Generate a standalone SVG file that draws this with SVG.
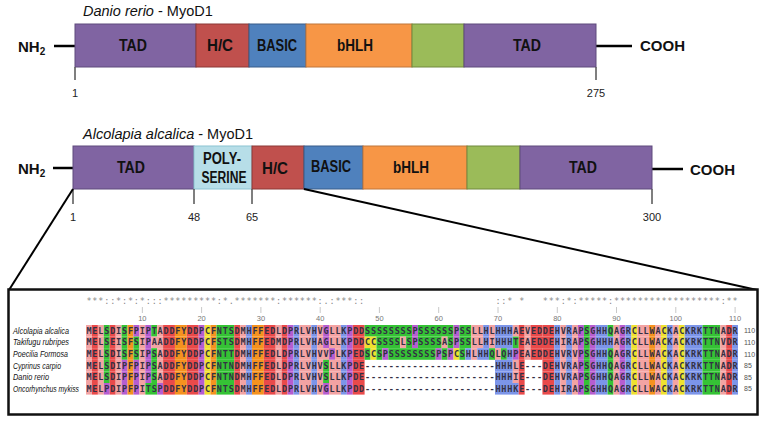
<svg xmlns="http://www.w3.org/2000/svg" width="764" height="424" viewBox="0 0 764 424">
<style>
.ttl{font-family:"Liberation Sans",Arial,sans-serif;font-size:14.5px;fill:#111}
.lbl{font-family:"Liberation Sans",Arial,sans-serif;font-weight:bold;font-size:16px;fill:#111;text-anchor:middle}
.term{font-family:"Liberation Sans",Arial,sans-serif;font-weight:bold;font-size:15px;fill:#111}
.num{font-family:"Liberation Sans",Arial,sans-serif;font-size:11px;fill:#222;text-anchor:middle}
.pur{fill:#8064a2;stroke:#5f4a7d;stroke-width:1}
.red{fill:#c0504d;stroke:#8c3836;stroke-width:1}
.blu{fill:#4f81bd;stroke:#385d8a;stroke-width:1}
.orn{fill:#f79646;stroke:#c0763a;stroke-width:1}
.grn{fill:#9bbb59;stroke:#71893f;stroke-width:1}
.lbl2{fill:#b7dee8;stroke:#8cc3d2;stroke-width:1}
.ln{stroke:#000;stroke-width:2.5;fill:none}
.tick{stroke:#555;stroke-width:1.5}
.al rect{height:11.6px}
.p{fill:#f3a3a3}.r{fill:#e94a4a}.g{fill:#35c235}.b{fill:#7c95e9}.o{fill:#f5921f}.m{fill:#b65dd0}.y{fill:#efe22e}
.seq{font-family:"DejaVu Sans Mono",monospace;font-size:8.5px;letter-spacing:0.81px;fill:#333044;font-weight:bold}
.cons{font-family:"DejaVu Sans Mono",monospace;font-size:8.5px;letter-spacing:0.81px;fill:#888}
.sp{font-family:"Liberation Sans",Arial,sans-serif;font-style:italic;font-size:8.5px;fill:#111}
.rul{font-family:"Liberation Sans",Arial,sans-serif;font-size:7.5px;fill:#777;text-anchor:middle}
.cnt{font-family:"Liberation Sans",Arial,sans-serif;font-size:7px;fill:#555}
</style>
<defs>
<g id="hd" class="al"><rect x="13" width="2" class="r"/><rect x="15" width="2" class="o"/><rect x="17" width="2" class="r"/><rect x="19" width="1" class="m"/><rect x="20" width="1" class="y"/><rect x="21" width="1" class="o"/><rect x="22" width="3" class="g"/><rect x="25" width="1" class="r"/><rect x="26" width="1" class="p"/><rect x="27" width="1" class="b"/><rect x="28" width="2" class="o"/><rect x="30" width="2" class="r"/><rect x="32" width="1" class="p"/><rect x="33" width="1" class="r"/><rect x="34" width="1" class="m"/><rect x="35" width="1" class="b"/><rect x="36" width="2" class="p"/><rect x="38" width="1" class="b"/></g>
<g id="mid" class="al"><rect x="77" width="2" class="r"/><rect x="79" width="1" class="b"/><rect x="80" width="1" class="p"/><rect x="81" width="1" class="b"/><rect x="82" width="1" class="p"/><rect x="83" width="1" class="m"/><rect x="84" width="1" class="g"/><rect x="85" width="1" class="m"/><rect x="86" width="2" class="b"/><rect x="88" width="1" class="g"/></g>
<g id="tail" class="al"><rect x="89" width="1" class="p"/><rect x="90" width="1" class="m"/><rect x="91" width="1" class="b"/><rect x="92" width="1" class="y"/><rect x="93" width="2" class="p"/><rect x="95" width="1" class="o"/><rect x="96" width="1" class="p"/><rect x="97" width="1" class="y"/><rect x="98" width="1" class="b"/><rect x="99" width="1" class="p"/><rect x="100" width="1" class="y"/><rect x="101" width="3" class="b"/><rect x="104" width="3" class="g"/><rect x="107" width="1" class="p"/><rect x="108" width="1" class="r"/><rect x="109" width="1" class="b"/></g>
<g id="rowCD" class="al"><rect x="0" width="1" class="p"/><rect x="1" width="1" class="r"/><rect x="2" width="1" class="p"/><rect x="3" width="1" class="g"/><rect x="4" width="1" class="r"/><rect x="5" width="1" class="p"/><rect x="6" width="1" class="m"/><rect x="7" width="1" class="o"/><rect x="8" width="1" class="m"/><rect x="9" width="1" class="p"/><rect x="10" width="1" class="m"/><rect x="11" width="1" class="g"/><rect x="12" width="1" class="p"/><use href="#hd"/><rect x="39" width="1" class="p"/><rect x="40" width="1" class="g"/><rect x="41" width="2" class="p"/><rect x="43" width="1" class="b"/><rect x="44" width="1" class="m"/><rect x="45" width="2" class="r"/><rect x="69" width="3" class="b"/><rect x="72" width="1" class="p"/><rect x="73" width="1" class="r"/><use href="#mid"/><use href="#tail"/></g>
</defs>

<g id="danio">
<text class="ttl" x="83" y="16"><tspan font-style="italic">Danio rerio</tspan> - MyoD1</text>
<line class="ln" x1="54" y1="46" x2="75" y2="46"/>
<line class="ln" x1="596" y1="46" x2="632" y2="46"/>
<text class="term" x="18" y="52">NH<tspan font-size="10" dy="3">2</tspan></text>
<text class="term" x="640" y="51" font-size="14">COOH</text>
<g id="danio-tad1"><rect class="pur" x="75" y="24" width="121" height="43"/><text class="lbl" x="133" y="51" textLength="28" lengthAdjust="spacingAndGlyphs">TAD</text></g>
<g id="danio-hc"><rect class="red" x="196" y="24" width="53" height="43"/><text class="lbl" x="220" y="51" textLength="26" lengthAdjust="spacingAndGlyphs">H/C</text></g>
<g id="danio-basic"><rect class="blu" x="249" y="24" width="57" height="43"/><text class="lbl" x="277" y="51" textLength="40" lengthAdjust="spacingAndGlyphs">BASIC</text></g>
<g id="danio-bhlh"><rect class="orn" x="306" y="24" width="106" height="43"/><text class="lbl" x="355" y="51" textLength="36" lengthAdjust="spacingAndGlyphs">bHLH</text></g>
<g id="danio-green"><rect class="grn" x="412" y="24" width="52" height="43"/></g>
<g id="danio-tad2"><rect class="pur" x="464" y="24" width="132" height="43"/><text class="lbl" x="527" y="51" textLength="28" lengthAdjust="spacingAndGlyphs">TAD</text></g>
<line class="tick" x1="75" y1="67" x2="75" y2="80"/>
<line class="tick" x1="596" y1="67" x2="596" y2="80"/>
<text class="num" x="75" y="97">1</text>
<text class="num" x="596" y="97">275</text>
</g>

<g id="alcolapia">
<text class="ttl" x="83" y="139"><tspan font-style="italic">Alcolapia alcalica</tspan> - MyoD1</text>
<line class="ln" x1="53" y1="168" x2="73" y2="168"/>
<line class="ln" x1="652" y1="169" x2="683" y2="169"/>
<text class="term" x="18" y="174">NH<tspan font-size="10" dy="3">2</tspan></text>
<text class="term" x="690" y="175" font-size="14">COOH</text>
<g id="alc-tad1"><rect class="pur" x="73" y="146" width="121" height="43"/><text class="lbl" x="131" y="173" textLength="28" lengthAdjust="spacingAndGlyphs">TAD</text></g>
<g id="alc-polyser"><rect class="lbl2" x="194" y="146" width="58" height="43"/><text class="lbl" x="222" y="164" font-size="14.5" textLength="38" lengthAdjust="spacingAndGlyphs">POLY-</text><text class="lbl" x="224" y="183" font-size="14.5" textLength="45" lengthAdjust="spacingAndGlyphs">SERINE</text></g>
<g id="alc-hc"><rect class="red" x="252" y="146" width="52" height="43"/><text class="lbl" x="275" y="174" textLength="26" lengthAdjust="spacingAndGlyphs">H/C</text></g>
<g id="alc-basic"><rect class="blu" x="304" y="146" width="59" height="43"/><text class="lbl" x="331" y="172" textLength="40" lengthAdjust="spacingAndGlyphs">BASIC</text></g>
<g id="alc-bhlh"><rect class="orn" x="363" y="146" width="104" height="43"/><text class="lbl" x="411" y="173" textLength="36" lengthAdjust="spacingAndGlyphs">bHLH</text></g>
<g id="alc-green"><rect class="grn" x="467" y="146" width="53" height="43"/></g>
<g id="alc-tad2"><rect class="pur" x="520" y="146" width="132" height="43"/><text class="lbl" x="583" y="173" textLength="28" lengthAdjust="spacingAndGlyphs">TAD</text></g>
<line class="tick" x1="73" y1="189" x2="73" y2="204"/>
<line class="tick" x1="194" y1="189" x2="194" y2="204"/>
<line class="tick" x1="252" y1="189" x2="252" y2="204"/>
<line class="tick" x1="652" y1="189" x2="652" y2="204"/>
<text class="num" x="73" y="221">1</text>
<text class="num" x="194" y="221">48</text>
<text class="num" x="252" y="221">65</text>
<text class="num" x="652" y="221">300</text>
</g>

<g id="connectors">
<line stroke="#000" stroke-width="2" x1="73" y1="189" x2="9" y2="290"/>
<line stroke="#000" stroke-width="2" x1="304" y1="189" x2="757" y2="290"/>
</g>

<g id="alignment">
<rect x="8.5" y="289.5" width="749" height="125" fill="#fff" stroke="#111" stroke-width="2.5"/>
<text class="cons" x="86.45" y="304" xml:space="preserve">***::*:*:*:::*********:*.*******:******:.:***::                      ::* *   ***:*:*****:******************:**</text>
<g stroke="#c8c8c8" stroke-width="1">
<line x1="142.35" y1="307" x2="142.35" y2="313"/><line x1="201.6" y1="307" x2="201.6" y2="313"/><line x1="260.9" y1="307" x2="260.9" y2="313"/><line x1="320.2" y1="307" x2="320.2" y2="313"/><line x1="379.4" y1="307" x2="379.4" y2="313"/><line x1="438.7" y1="307" x2="438.7" y2="313"/><line x1="498" y1="307" x2="498" y2="313"/><line x1="557.3" y1="307" x2="557.3" y2="313"/><line x1="616.5" y1="307" x2="616.5" y2="313"/><line x1="675.8" y1="307" x2="675.8" y2="313"/><line x1="735.1" y1="307" x2="735.1" y2="313"/>
</g>
<text class="rul" y="321"><tspan x="142.35">10</tspan><tspan x="201.6">20</tspan><tspan x="260.9">30</tspan><tspan x="320.2">40</tspan><tspan x="379.4">50</tspan><tspan x="438.7">60</tspan><tspan x="498">70</tspan><tspan x="557.3">80</tspan><tspan x="616.5">90</tspan><tspan x="675.8">100</tspan><tspan x="735.1">110</tspan></text>

<g class="al">
<g transform="translate(86.04,325) scale(5.927,1)"><rect x="0" width="1" class="p"/><rect x="1" width="1" class="r"/><rect x="2" width="1" class="p"/><rect x="3" width="1" class="g"/><rect x="4" width="1" class="r"/><rect x="5" width="1" class="p"/><rect x="6" width="1" class="g"/><rect x="7" width="1" class="o"/><rect x="8" width="1" class="m"/><rect x="9" width="1" class="p"/><rect x="10" width="1" class="m"/><rect x="11" width="1" class="g"/><rect x="12" width="1" class="p"/><use href="#hd"/><rect x="39" width="1" class="p"/><rect x="40" width="1" class="m"/><rect x="41" width="2" class="p"/><rect x="43" width="1" class="b"/><rect x="44" width="1" class="m"/><rect x="45" width="2" class="r"/><rect x="47" width="8" class="g"/><rect x="55" width="1" class="m"/><rect x="56" width="6" class="g"/><rect x="62" width="1" class="m"/><rect x="63" width="2" class="g"/><rect x="65" width="2" class="p"/><rect x="67" width="1" class="b"/><rect x="68" width="1" class="p"/><rect x="69" width="3" class="b"/><rect x="72" width="1" class="p"/><rect x="73" width="1" class="r"/><rect x="74" width="1" class="p"/><rect x="75" width="2" class="r"/><use href="#mid"/><use href="#tail"/></g>
<g transform="translate(86.04,336.6) scale(5.927,1)"><rect x="0" width="1" class="p"/><rect x="1" width="1" class="r"/><rect x="2" width="1" class="p"/><rect x="3" width="1" class="g"/><rect x="4" width="1" class="r"/><rect x="5" width="1" class="p"/><rect x="6" width="1" class="g"/><rect x="7" width="1" class="o"/><rect x="8" width="1" class="g"/><rect x="9" width="1" class="p"/><rect x="10" width="1" class="m"/><rect x="11" width="2" class="p"/><use href="#hd"/><rect x="39" width="1" class="p"/><rect x="40" width="1" class="m"/><rect x="41" width="2" class="p"/><rect x="43" width="1" class="b"/><rect x="44" width="1" class="m"/><rect x="45" width="2" class="r"/><rect x="47" width="2" class="y"/><rect x="49" width="4" class="g"/><rect x="53" width="1" class="p"/><rect x="54" width="1" class="g"/><rect x="55" width="1" class="m"/><rect x="56" width="4" class="g"/><rect x="60" width="1" class="p"/><rect x="61" width="1" class="g"/><rect x="62" width="1" class="m"/><rect x="63" width="2" class="g"/><rect x="65" width="2" class="p"/><rect x="67" width="1" class="b"/><rect x="68" width="1" class="p"/><rect x="69" width="3" class="b"/><rect x="72" width="1" class="g"/><rect x="73" width="1" class="r"/><rect x="74" width="1" class="p"/><rect x="75" width="4" class="r"/><rect x="79" width="1" class="b"/><rect x="80" width="1" class="p"/><rect x="81" width="1" class="b"/><rect x="82" width="1" class="p"/><rect x="83" width="1" class="m"/><rect x="84" width="1" class="g"/><rect x="85" width="1" class="m"/><rect x="86" width="3" class="b"/><use href="#tail"/></g>
<g transform="translate(86.04,348.2) scale(5.927,1)"><rect x="0" width="1" class="p"/><rect x="1" width="1" class="r"/><rect x="2" width="1" class="p"/><rect x="3" width="1" class="g"/><rect x="4" width="1" class="r"/><rect x="5" width="1" class="p"/><rect x="6" width="1" class="g"/><rect x="7" width="1" class="o"/><rect x="8" width="1" class="g"/><rect x="9" width="1" class="p"/><rect x="10" width="1" class="m"/><rect x="11" width="1" class="g"/><rect x="12" width="1" class="p"/><use href="#hd"/><rect x="39" width="2" class="p"/><rect x="41" width="1" class="m"/><rect x="42" width="1" class="p"/><rect x="43" width="1" class="b"/><rect x="44" width="1" class="m"/><rect x="45" width="2" class="r"/><rect x="47" width="1" class="g"/><rect x="48" width="1" class="y"/><rect x="49" width="1" class="g"/><rect x="50" width="1" class="m"/><rect x="51" width="8" class="g"/><rect x="59" width="1" class="m"/><rect x="60" width="1" class="g"/><rect x="61" width="1" class="m"/><rect x="62" width="1" class="y"/><rect x="63" width="1" class="g"/><rect x="64" width="1" class="b"/><rect x="65" width="1" class="p"/><rect x="66" width="2" class="b"/><rect x="68" width="1" class="g"/><rect x="69" width="1" class="p"/><rect x="70" width="1" class="g"/><rect x="71" width="1" class="b"/><rect x="72" width="1" class="m"/><rect x="73" width="1" class="r"/><rect x="74" width="1" class="p"/><rect x="75" width="2" class="r"/><use href="#mid"/><use href="#tail"/></g>
<use href="#rowCD" transform="translate(86.04,359.8) scale(5.927,1)"/>
<use href="#rowCD" transform="translate(86.04,371.4) scale(5.927,1)"/>
<g transform="translate(86.04,383) scale(5.927,1)"><rect x="0" width="1" class="p"/><rect x="1" width="1" class="r"/><rect x="2" width="1" class="p"/><rect x="3" width="1" class="m"/><rect x="4" width="1" class="r"/><rect x="5" width="1" class="p"/><rect x="6" width="1" class="m"/><rect x="7" width="1" class="o"/><rect x="8" width="1" class="m"/><rect x="9" width="1" class="p"/><rect x="10" width="2" class="g"/><rect x="12" width="1" class="m"/><use href="#hd"/><rect x="39" width="1" class="p"/><rect x="40" width="1" class="m"/><rect x="41" width="2" class="p"/><rect x="43" width="1" class="b"/><rect x="44" width="1" class="m"/><rect x="45" width="2" class="r"/><rect x="69" width="4" class="b"/><rect x="73" width="1" class="r"/><use href="#mid"/><use href="#tail"/></g>
</g>

<g class="seq">
<text x="86.45" y="333.8">MELSDISFPIPTADDFYDDPCFNTSDMHFFEDLDPRLVHVGLLKPDDSSSSSSSSPSSSSSSPSSLLHLHHHAEVEDDEHVRAPSGHHQAGRCLLWACKACKRKTTNADR</text>
<text x="86.45" y="345.4">MELSEISFSIPAADDFYDDPCFSTSDMHFFEDMDPRLVHAGLLKPDDCCSSSSLSPSSSSASPSSLLHIHHHTEAEDDEHIRAPSGHHHAGRCLLWACKACKRKTTNVDR</text>
<text x="86.45" y="357">MELSDISFSIPSADDFYDDPCFNTTDMHFFEDLDPRLVHVVPLKPEDSCSPSSSSSSSSPSPCSHLHHQLQHPEAEDDEHVRVPSGHHQAGRCLLWACKACKRKTTNADR</text>
<text x="86.45" y="368.6">MELSDIPFPIPSADDFYDDPCFNTNDMHFFEDLDPRLVHVSLLKPDE----------------------HHHLE---DEHVRAPSGHHQAGRCLLWACKACKRKTTNADR</text>
<text x="86.45" y="380.2">MELSDIPFPIPSADDFYDDPCFNTNDMHFFEDLDPRLVHVSLLKPDE----------------------HHHIE---DEHVRAPSGHHQAGRCLLWACKACKRKTTNADR</text>
<text x="86.45" y="391.8">MELPDIPFPITSPDDFYDDPCFNTSDMHFFEDLDPRLVHVGLLKPDD----------------------HHHKE---DEHIRAPSGHHQAGRCLLWACKACKRKTTNADR</text>
</g>

<g class="sp">
<text x="13" y="333.8" textLength="56" lengthAdjust="spacingAndGlyphs">Alcolapia alcalica</text>
<text x="13" y="345.4" textLength="56" lengthAdjust="spacingAndGlyphs">Takifugu rubripes</text>
<text x="13" y="357" textLength="55" lengthAdjust="spacingAndGlyphs">Poecilia Formosa</text>
<text x="13" y="368.6" textLength="48" lengthAdjust="spacingAndGlyphs">Cyprinus carpio</text>
<text x="13" y="380.2" textLength="36" lengthAdjust="spacingAndGlyphs">Danio rerio</text>
<text x="13" y="391.8" textLength="66" lengthAdjust="spacingAndGlyphs">Oncorhynchus mykiss</text>
</g>

<g class="cnt">
<text x="744" y="333.3">110</text>
<text x="744" y="344.9">110</text>
<text x="744" y="356.5">110</text>
<text x="744" y="368.1">85</text>
<text x="744" y="379.7">85</text>
<text x="744" y="391.3">85</text>
</g>
</g>
</svg>
